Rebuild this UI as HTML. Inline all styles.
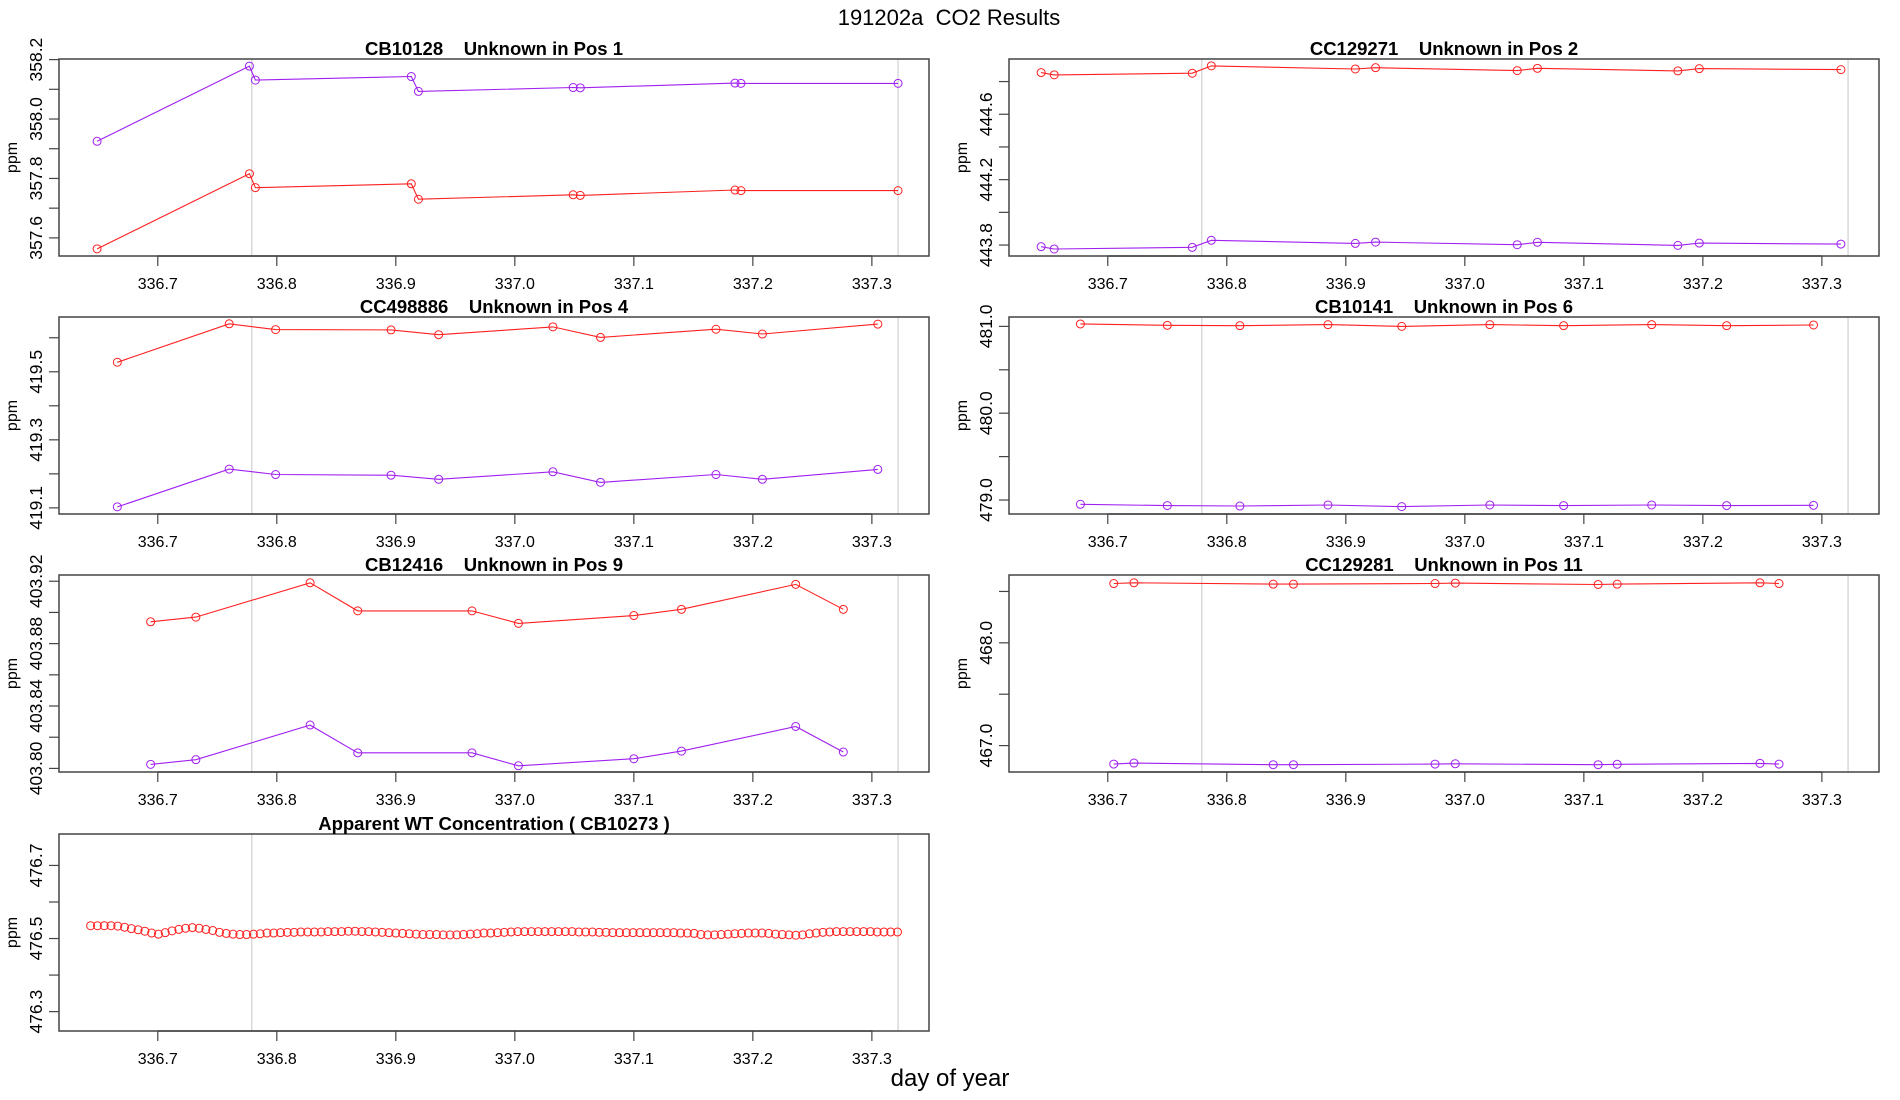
<!DOCTYPE html>
<html><head><meta charset="utf-8"><style>
html,body{margin:0;padding:0;background:#fff;}
svg{display:block;font-family:"Liberation Sans",Arial,sans-serif;}
text{white-space:pre;}
</style></head><body>
<svg id="chart" width="1900" height="1100" viewBox="0 0 1900 1100">
<text x="949" y="25" font-size="22" text-anchor="middle">191202a  CO2 Results</text>
<text x="950" y="1086" font-size="24" text-anchor="middle">day of year</text>
</svg>
<script>
// ---- data ----
const xTicks = [336.7, 336.8, 336.9, 337.0, 337.1, 337.2, 337.3];
const xTickLabels = ["336.7","336.8","336.9","337.0","337.1","337.2","337.3"];
const refLines = [336.779, 337.322];

const p1Time = [336.649,336.777,336.782,336.913,336.919,337.049,337.055,337.185,337.190,337.322];
const p1Purple = [357.925,358.178,358.131,358.143,358.093,358.106,358.105,358.121,358.120,358.120];
const p1Red = [357.563,357.816,357.769,357.782,357.730,357.745,357.743,357.761,357.759,357.759];
const p1YTicks = [357.6,357.7,357.8,357.9,358.0,358.1,358.2];
const p1YLabels = ["357.6","","357.8","","358.0","","358.2"];

const p2Time = [336.644,336.655,336.771,336.787,336.908,336.925,337.044,337.061,337.179,337.197,337.316];
const p2Red = [444.855,444.841,444.851,444.896,444.877,444.885,444.867,444.881,444.865,444.879,444.873];
const p2Purple = [443.790,443.776,443.786,443.829,443.810,443.818,443.802,443.817,443.798,443.812,443.806];
const p2YTicks = [443.8,444.0,444.2,444.4,444.6,444.8];
const p2YLabels = ["443.8","","444.2","","444.6",""];

const p3Time = [336.666,336.760,336.799,336.896,336.936,337.032,337.072,337.169,337.208,337.305];
const p3Red = [419.528,419.641,419.624,419.623,419.609,419.632,419.601,419.625,419.611,419.640];
const p3Purple = [419.103,419.214,419.198,419.196,419.184,419.206,419.175,419.198,419.184,419.213];
const p3YTicks = [419.1,419.2,419.3,419.4,419.5,419.6];
const p3YLabels = ["419.1","","419.3","","419.5",""];

const p4Time = [336.677,336.750,336.811,336.885,336.947,337.021,337.083,337.157,337.220,337.293];
const p4Red = [481.028,481.012,481.008,481.020,481.000,481.020,481.008,481.020,481.008,481.016];
const p4Purple = [478.951,478.936,478.931,478.943,478.924,478.943,478.936,478.943,478.936,478.939];
const p4YTicks = [479.0,479.5,480.0,480.5,481.0];
const p4YLabels = ["479.0","","480.0","","481.0"];

const p5Time = [336.694,336.732,336.828,336.868,336.964,337.003,337.100,337.140,337.236,337.276];
const p5Red = [403.894,403.897,403.919,403.901,403.901,403.893,403.898,403.902,403.918,403.902];
const p5Purple = [403.8026,403.8056,403.8278,403.8100,403.8100,403.8017,403.8062,403.8111,403.8269,403.8105];
const p5YTicks = [403.80,403.82,403.84,403.86,403.88,403.90,403.92];
const p5YLabels = ["403.80","","403.84","","403.88","","403.92"];

const p6Time = [336.705,336.722,336.839,336.856,336.975,336.992,337.112,337.128,337.248,337.264];
const p6Red = [468.577,468.584,468.571,468.571,468.577,468.581,468.568,468.571,468.584,468.577];
const p6Purple = [466.820,466.830,466.814,466.814,466.820,466.823,466.814,466.818,466.827,466.820];
const p6YTicks = [467.0,467.5,468.0,468.5];
const p6YLabels = ["467.0","","468.0",""];

const p7Start = 336.6436;
const p7Step = 0.005697;
const p7Red = [476.535,476.535,476.535,476.535,476.534,476.531,476.527,476.524,476.520,476.515,
476.512,476.516,476.521,476.525,476.528,476.530,476.528,476.525,476.522,476.517,
476.514,476.512,476.511,476.511,476.512,476.513,476.515,476.515,476.516,476.517,
476.517,476.518,476.518,476.518,476.518,476.519,476.519,476.519,476.520,476.520,
476.519,476.519,476.518,476.517,476.516,476.515,476.514,476.513,476.512,476.511,
476.511,476.511,476.510,476.510,476.510,476.511,476.512,476.513,476.515,476.515,
476.516,476.517,476.518,476.519,476.519,476.519,476.519,476.519,476.519,476.519,
476.519,476.519,476.518,476.518,476.518,476.517,476.517,476.516,476.516,476.516,
476.516,476.516,476.516,476.516,476.516,476.516,476.516,476.515,476.515,476.514,
476.511,476.510,476.510,476.511,476.512,476.513,476.514,476.515,476.515,476.515,
476.514,476.512,476.511,476.510,476.509,476.510,476.513,476.515,476.517,476.518,
476.519,476.519,476.519,476.519,476.519,476.519,476.518,476.518,476.518,476.518];
const p7YTicks = [476.3,476.4,476.5,476.6,476.7];
const p7YLabels = ["476.3","","476.5","","476.7"];
</script>
<script>
const NS = "http://www.w3.org/2000/svg";
const svg = document.getElementById('chart');
const X0 = 336.617, X1 = 337.348;
const RED = "#ff2020", PURPLE = "#a020f0";
function mk(tag, attrs, parent){
  const e = document.createElementNS(NS, tag);
  for (const k in attrs) e.setAttribute(k, attrs[k]);
  (parent || svg).appendChild(e);
  return e;
}
function panel(key, left, top, title, yMin, yMax, yTicks, yLabels, series){
  const W = 870, H = 197;
  const g = mk('g', {});
  
  
  const sx = v => left + (v - X0) / (X1 - X0) * W;
  const sy = v => top + (yMax - v) / (yMax - yMin) * H;
  refLines.forEach(r => {
    const l = mk('line', {x1: sx(r), x2: sx(r), y1: top, y2: top + H, stroke: "#c8c8c8", "stroke-width": 1}, g);
    
    
  });
  const fr = mk('rect', {x: left, y: top, width: W, height: H, fill: "none", stroke: "#444", "stroke-width": 1.5}, g);
  
  
  const xa = mk('g', {}, g);
  
  
  mk('line', {x1: sx(xTicks[0]), x2: sx(xTicks[xTicks.length-1]), y1: top + H, y2: top + H, stroke: "#444", "stroke-width": 1.5}, xa);
  xTicks.forEach((t, i) => {
    mk('line', {x1: sx(t), x2: sx(t), y1: top + H, y2: top + H + 10, stroke: "#444", "stroke-width": 1.2}, xa);
    const tx = mk('text', {x: sx(t), y: top + H + 33, "font-size": 16, "text-anchor": "middle"}, xa);
    tx.textContent = xTickLabels[i];
    
    
  });
  const ya = mk('g', {}, g);
  
  
  yTicks.forEach((t, i) => {
    const y = sy(t);
    mk('line', {x1: left - 10, x2: left, y1: y, y2: y, stroke: "#444", "stroke-width": 1.2}, ya);
    if (yLabels[i]) {
      const bx = left - 17;
      const tx = mk('text', {x: bx, y: y, "font-size": 17.5, "text-anchor": "middle", transform: `rotate(-90 ${bx} ${y})`}, ya);
      tx.textContent = yLabels[i];
      
      
    }
  });
  const px = left - 42, py = top + H / 2;
  const yt = mk('text', {x: px, y: py, "font-size": 16, "text-anchor": "middle", transform: `rotate(-90 ${px} ${py})`}, ya);
  yt.textContent = "ppm";
  
  
  const tt = mk('text', {x: left + W / 2, y: top - 4, "font-size": 18.5, "font-weight": "bold", "text-anchor": "middle"}, g);
  tt.textContent = title;
  
  
  series.forEach(s => {
    const sg = mk('g', {}, g);
    
    
    if (s.line) {
      const pts = s.xs.map((x, i) => sx(x).toFixed(1) + "," + sy(s.ys[i]).toFixed(1)).join(" ");
      const pl = mk('polyline', {points: pts, fill: "none", stroke: s.color, "stroke-width": 1.1}, sg);
      
      
    }
    s.xs.forEach((x, i) => {
      const c = mk('circle', {cx: sx(x), cy: sy(s.ys[i]), r: 4, fill: "none", stroke: s.color, "stroke-width": 1}, sg);
      
      
    });
  });
}
const L = 59, R = 1009, T = [59, 317, 575, 834];
panel('panel-pos1', L, T[0], "CB10128    Unknown in Pos 1", 357.539, 358.202, p1YTicks, p1YLabels,
  [{name:'series-purple', xs:p1Time, ys:p1Purple, color:PURPLE, line:true},{name:'series-red', xs:p1Time, ys:p1Red, color:RED, line:true}]);
panel('panel-pos2', R, T[0], "CC129271    Unknown in Pos 2", 443.733, 444.938, p2YTicks, p2YLabels,
  [{name:'series-red', xs:p2Time, ys:p2Red, color:RED, line:true},{name:'series-purple', xs:p2Time, ys:p2Purple, color:PURPLE, line:true}]);
panel('panel-pos4', L, T[1], "CC498886    Unknown in Pos 4", 419.082, 419.661, p3YTicks, p3YLabels,
  [{name:'series-red', xs:p3Time, ys:p3Red, color:RED, line:true},{name:'series-purple', xs:p3Time, ys:p3Purple, color:PURPLE, line:true}]);
panel('panel-pos6', R, T[1], "CB10141    Unknown in Pos 6", 478.839, 481.108, p4YTicks, p4YLabels,
  [{name:'series-red', xs:p4Time, ys:p4Red, color:RED, line:true},{name:'series-purple', xs:p4Time, ys:p4Purple, color:PURPLE, line:true}]);
panel('panel-pos9', L, T[2], "CB12416    Unknown in Pos 9", 403.7977, 403.924, p5YTicks, p5YLabels,
  [{name:'series-red', xs:p5Time, ys:p5Red, color:RED, line:true},{name:'series-purple', xs:p5Time, ys:p5Purple, color:PURPLE, line:true}]);
panel('panel-pos11', R, T[2], "CC129281    Unknown in Pos 11", 466.743, 468.660, p6YTicks, p6YLabels,
  [{name:'series-red', xs:p6Time, ys:p6Red, color:RED, line:true},{name:'series-purple', xs:p6Time, ys:p6Purple, color:PURPLE, line:true}]);
const p7Time = p7Red.map((v, i) => p7Start + i * p7Step);
panel('panel-wt-concentration', L, T[3], "Apparent WT Concentration ( CB10273 )", 476.247, 476.786, p7YTicks, p7YLabels,
  [{name:'series-red', xs:p7Time, ys:p7Red, color:RED, line:false}]);
</script>
</body></html>
